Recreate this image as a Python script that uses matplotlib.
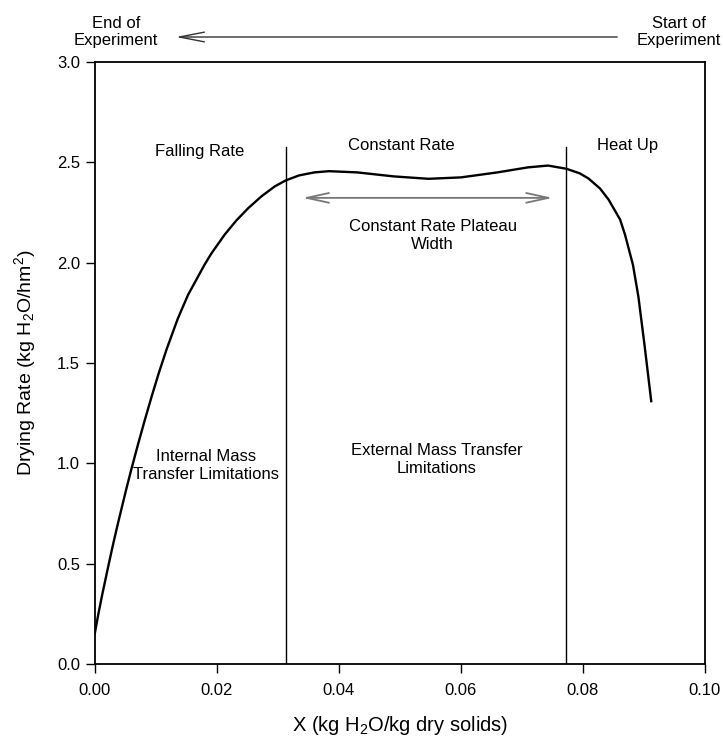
import numpy as np
import matplotlib
matplotlib.use('Agg')
import matplotlib.pyplot as plt

plt.rcParams['font.family'] = ['Liberation Sans', 'DejaVu Sans']
plt.rcParams['mathtext.fontset'] = 'custom'
plt.rcParams['mathtext.rm'] = 'Liberation Sans'
plt.rcParams['mathtext.it'] = 'Liberation Sans:italic'

# Drying curve
moisture = [0.0, 0.0006, 0.00126, 0.00217, 0.0030, 0.0038, 0.0052, 0.0060, 0.0071,
            0.0082, 0.0093, 0.0105, 0.0118, 0.0136, 0.0153, 0.0180, 0.0191, 0.0213,
            0.0232, 0.0251, 0.0273, 0.0295, 0.0313, 0.0335, 0.0360, 0.0384, 0.0430,
            0.0490, 0.0547, 0.0600, 0.0660, 0.0710, 0.0743, 0.0773, 0.0795, 0.0809,
            0.0828, 0.0842, 0.0861, 0.0869, 0.0882, 0.0891, 0.0901, 0.0912]
rate = [0.15, 0.25, 0.35, 0.48, 0.595, 0.70, 0.875, 0.97, 1.095,
        1.215, 1.33, 1.45, 1.57, 1.72, 1.84, 1.99, 2.045, 2.14,
        2.21, 2.27, 2.33, 2.38, 2.41, 2.435, 2.45, 2.456, 2.45,
        2.43, 2.418, 2.425, 2.45, 2.475, 2.484, 2.468, 2.445, 2.42,
        2.37, 2.315, 2.215, 2.14, 1.99, 1.83, 1.59, 1.31]

# region boundaries
boundaries = [0.0314, 0.0773]
boundary_top = 2.575

xticks = [0.00, 0.02, 0.04, 0.06, 0.08, 0.10]
yticks = [0.0, 0.5, 1.0, 1.5, 2.0, 2.5, 3.0]

fig = plt.figure(figsize=(7.23, 7.41), dpi=100)
ax = fig.add_axes([0.131, 0.1039, 0.844, 0.8124])

ax.plot(moisture, rate, color='black', lw=1.7, solid_joinstyle='round')
for b in boundaries:
    ax.plot([b, b], [0, boundary_top], color='black', lw=1.0)

ax.set_xlim(0, 0.10)
ax.set_ylim(0, 3.0)
ax.set_xticks(xticks)
ax.set_xticklabels(['%.2f' % t for t in xticks])
ax.set_yticks(yticks)
ax.set_yticklabels(['%.1f' % t for t in yticks])
ax.tick_params(direction='out', length=6.5, width=1.0, labelsize=12)
ax.tick_params(axis='x', pad=7)
ax.tick_params(axis='y', pad=4)
for s in ax.spines.values():
    s.set_linewidth(1.3)

ax.set_xlabel('X (kg H$_2$O/kg dry solids)', fontsize=14.5, labelpad=12)
ax.set_ylabel('Drying Rate (kg H$_2$O/hm$^2$)', fontsize=14, labelpad=14)

fs = 12
ax.text(0.0172, 2.553, 'Falling Rate', ha='center', va='center', fontsize=fs)
ax.text(0.0502, 2.586, 'Constant Rate', ha='center', va='center', fontsize=fs)
ax.text(0.0873, 2.586, 'Heat Up', ha='center', va='center', fontsize=fs)
ax.text(0.0554, 2.135, 'Constant Rate Plateau\nWidth', ha='center', va='center',
        fontsize=fs, linespacing=1.2)
ax.text(0.0182, 0.99, 'Internal Mass\nTransfer Limitations', ha='center', va='center',
        fontsize=fs, linespacing=1.2)
ax.text(0.0561, 1.02, 'External Mass Transfer\nLimitations', ha='center', va='center',
        fontsize=fs, linespacing=1.2)

# plateau width arrow
ax.annotate('', xy=(0.0336, 2.323), xytext=(0.0755, 2.323),
            arrowprops=dict(arrowstyle='<->,head_length=1.6,head_width=0.35',
                            color='#777777', lw=1.3))

# experiment direction arrow above the axes
fig.text(116 / 723, 1 - 32 / 741, 'End of\nExperiment', ha='center', va='center',
         fontsize=12, linespacing=1.2)
fig.text(679 / 723, 1 - 32 / 741, 'Start of\nExperiment', ha='center', va='center',
         fontsize=12, linespacing=1.2)
ax.annotate('', xy=(173 / 723, 1 - 37 / 741), xytext=(620 / 723, 1 - 37 / 741),
            xycoords='figure fraction', textcoords='figure fraction',
            arrowprops=dict(arrowstyle='->,head_length=1.8,head_width=0.35',
                            color='#333333', lw=1.0))

fig.savefig('out.png', dpi=100)
